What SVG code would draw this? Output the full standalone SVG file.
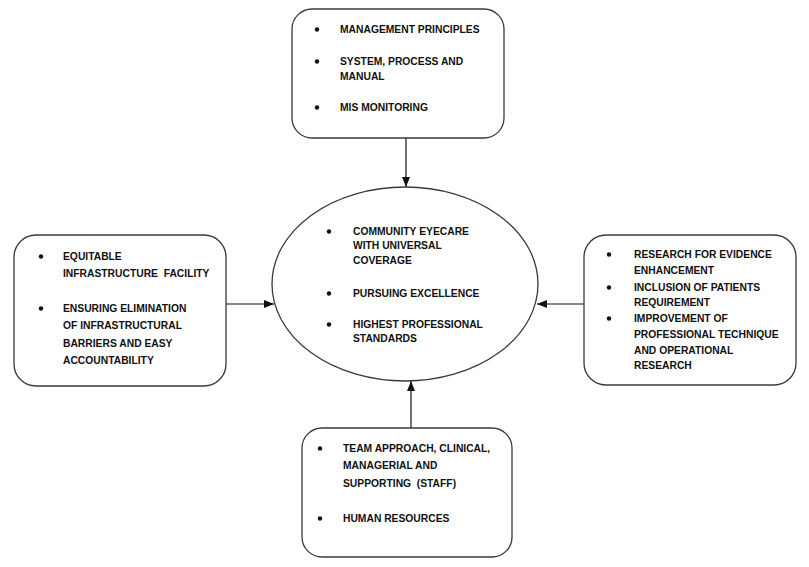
<svg xmlns="http://www.w3.org/2000/svg" width="809" height="567" viewBox="0 0 809 567">
<style>
.box{fill:#fff;stroke:#3a3a3a;stroke-width:1.3}
.t{font-family:"Liberation Sans",Arial,sans-serif;font-weight:bold;font-size:10.3px;fill:#111}
.b{fill:#111}
.c{stroke:#111;stroke-width:1.2;fill:none}
</style>
<defs>
<marker id="ah" viewBox="0 0 10 8" refX="10" refY="4" markerWidth="10" markerHeight="8" markerUnits="userSpaceOnUse" orient="auto">
<path d="M0,0 L10,4 L0,8 z" fill="#111"/>
</marker>
</defs>
<rect width="809" height="567" fill="#fff"/>
<g id="connectors">
<line class="c" x1="406" y1="138" x2="406" y2="187" marker-end="url(#ah)"/>
<line class="c" x1="226" y1="304" x2="274" y2="304" marker-end="url(#ah)"/>
<line class="c" x1="584" y1="304" x2="537" y2="304" marker-end="url(#ah)"/>
<line class="c" x1="411" y1="428" x2="411" y2="381" marker-end="url(#ah)"/>
</g>
<g id="top">
<rect class="box" x="292" y="9" width="212" height="129" rx="20"/>
<circle class="b" cx="317" cy="29.5" r="2.2"/>
<circle class="b" cx="317" cy="61.5" r="2.2"/>
<circle class="b" cx="317" cy="107.5" r="2.2"/>
<text class="t" x="340" y="33">MANAGEMENT PRINCIPLES</text>
<text class="t" x="340" y="65">SYSTEM, PROCESS AND</text>
<text class="t" x="340" y="80">MANUAL</text>
<text class="t" x="340" y="111">MIS MONITORING</text>
</g>
<g id="left">
<rect class="box" x="14" y="235" width="212" height="151" rx="22"/>
<circle class="b" cx="41" cy="256.5" r="2.2"/>
<circle class="b" cx="41" cy="308.5" r="2.2"/>
<text class="t" x="63" y="260">EQUITABLE</text>
<text class="t" x="63" y="277" xml:space="preserve">INFRASTRUCTURE  FACILITY</text>
<text class="t" x="63" y="312">ENSURING ELIMINATION</text>
<text class="t" x="63" y="329">OF INFRASTRUCTURAL</text>
<text class="t" x="63" y="347">BARRIERS AND EASY</text>
<text class="t" x="63" y="364">ACCOUNTABILITY</text>
</g>
<g id="center">
<ellipse class="box" cx="405" cy="284" rx="133" ry="97"/>
<circle class="b" cx="329" cy="231.5" r="2.2"/>
<circle class="b" cx="329" cy="293.5" r="2.2"/>
<circle class="b" cx="329" cy="324.5" r="2.2"/>
<text class="t" x="353" y="235">COMMUNITY EYECARE</text>
<text class="t" x="353" y="249">WITH UNIVERSAL</text>
<text class="t" x="353" y="264">COVERAGE</text>
<text class="t" x="353" y="297">PURSUING EXCELLENCE</text>
<text class="t" x="353" y="328">HIGHEST PROFESSIONAL</text>
<text class="t" x="353" y="342">STANDARDS</text>
</g>
<g id="right">
<rect class="box" x="584" y="235" width="212" height="150" rx="22"/>
<circle class="b" cx="609" cy="254.5" r="2.2"/>
<circle class="b" cx="609" cy="287.5" r="2.2"/>
<circle class="b" cx="609" cy="318.5" r="2.2"/>
<text class="t" x="634" y="258">RESEARCH FOR EVIDENCE</text>
<text class="t" x="634" y="274">ENHANCEMENT</text>
<text class="t" x="634" y="291">INCLUSION OF PATIENTS</text>
<text class="t" x="634" y="306">REQUIREMENT</text>
<text class="t" x="634" y="322">IMPROVEMENT OF</text>
<text class="t" x="634" y="338">PROFESSIONAL TECHNIQUE</text>
<text class="t" x="634" y="354">AND OPERATIONAL</text>
<text class="t" x="634" y="369">RESEARCH</text>
</g>
<g id="bottom">
<rect class="box" x="302" y="428" width="210" height="129" rx="20"/>
<circle class="b" cx="320" cy="448.5" r="2.2"/>
<circle class="b" cx="320" cy="518.5" r="2.2"/>
<text class="t" x="343" y="452">TEAM APPROACH, CLINICAL,</text>
<text class="t" x="343" y="469">MANAGERIAL AND</text>
<text class="t" x="343" y="487" xml:space="preserve">SUPPORTING  (STAFF)</text>
<text class="t" x="343" y="522">HUMAN RESOURCES</text>
</g>
</svg>
